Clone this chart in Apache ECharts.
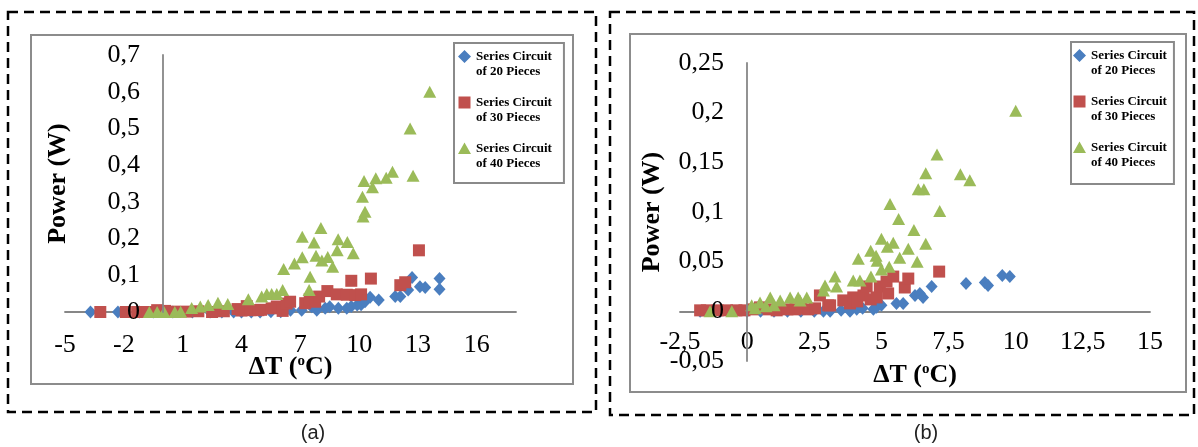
<!DOCTYPE html>
<html><head><meta charset="utf-8">
<script src="https://cdn.jsdelivr.net/npm/echarts@6/dist/echarts.min.js"></script>
<style>html,body{margin:0;padding:0;background:#fff;} #c{width:1198px;height:447px;}</style>
</head><body><div id="c"></div>
<script>
// ---- data ----
const seriesNames = ['Series Circuit\nof 20 Pieces', 'Series Circuit\nof 30 Pieces', 'Series Circuit\nof 40 Pieces'];
const panelLabels = ['(a)', '(b)'];
const yTitle = 'Power (W)';
const xTitleParts = ['ΔT (', 'o', 'C)'];

// panel (a): [ΔT, Power]
const a20 = [[-3.7,0],[-2.3,0],[-1.2,0],[-0.5,0],[0.5,0],[1.5,0],[2.4,0],[3.0,0],[3.6,0],[4.0,0],[4.5,0],[4.95,0],[5.5,0.001],[6.0,0.001],[6.5,0.005],[7.07,0.005],[7.58,0.014],[7.84,0.005],[8.27,0.01],[8.5,0.014],[8.94,0.01],[9.37,0.01],[9.6,0.015],[9.9,0.019],[10.1,0.02],[10.3,0.028],[10.56,0.04],[11.0,0.033],[11.84,0.042],[12.1,0.042],[12.5,0.06],[12.7,0.094],[13.1,0.069],[13.37,0.067],[14.1,0.091],[14.1,0.062]];
const a30 = [[-3.2,0],[-1.9,0],[-1.3,0],[-0.8,0],[-0.3,0.005],[0.1,0.003],[0.6,0.001],[1.2,0.001],[1.8,0.002],[2.5,0],[3.1,0.002],[3.8,0.008],[4.0,0.004],[4.27,0.016],[4.45,0.005],[4.86,0.005],[5.0,0.006],[5.54,0.01],[5.8,0.015],[6.1,0.003],[6.3,0.023],[6.48,0.028],[7.25,0.024],[7.48,0.035],[7.76,0.028],[7.96,0.042],[8.38,0.057],[8.86,0.048],[9.37,0.047],[9.6,0.085],[9.8,0.046],[10.1,0.048],[10.6,0.091],[12.1,0.073],[12.35,0.081],[13.05,0.168]];
const a40 = [[-0.7,0],[-0.3,0],[0.05,0],[0.6,0],[0.9,0.001],[1.46,0.011],[1.9,0.015],[2.3,0.019],[2.8,0.025],[3.3,0.022],[4.35,0.035],[5.03,0.042],[5.29,0.049],[5.54,0.049],[5.8,0.049],[6.1,0.06],[6.15,0.117],[6.7,0.132],[7.1,0.149],[7.1,0.205],[7.45,0.06],[7.5,0.096],[7.7,0.189],[7.8,0.153],[8.05,0.229],[8.1,0.14],[8.4,0.15],[8.65,0.123],[8.88,0.168],[8.93,0.198],[9.4,0.191],[9.7,0.16],[10.17,0.314],[10.2,0.26],[10.3,0.273],[10.25,0.357],[10.68,0.34],[10.85,0.364],[11.38,0.366],[11.7,0.382],[12.6,0.5],[12.75,0.371],[13.6,0.6]];

// panel (b): [ΔT, Power]
const b20 = [[-1.75,0],[-1.0,0],[0.0,0],[0.5,0],[1.0,0],[1.5,0],[2.0,0],[2.5,0],[2.84,0],[3.09,0],[3.5,0.001],[3.83,0],[4.08,0.002],[4.3,0.003],[4.7,0.002],[4.82,0.004],[5.0,0.006],[5.56,0.008],[5.81,0.008],[6.25,0.016],[6.43,0.018],[6.55,0.014],[6.87,0.025],[8.15,0.028],[8.85,0.029],[8.97,0.026],[9.5,0.036],[9.78,0.035]];
const b30 = [[-1.75,0.001],[-1.5,0.001],[-1.1,0.001],[-0.75,0.001],[-0.4,0.001],[-0.1,0.001],[0.2,0.002],[0.48,0.004],[0.8,0.002],[1.1,0.001],[1.5,0.002],[1.8,0.002],[2.0,0.003],[2.27,0.002],[2.53,0.003],[2.71,0.016],[3.02,0.006],[3.09,0.006],[3.58,0.011],[3.83,0.008],[3.95,0.014],[4.1,0.01],[4.33,0.016],[4.45,0.025],[4.6,0.012],[4.82,0.014],[4.94,0.025],[5.19,0.03],[5.25,0.018],[5.44,0.035],[5.87,0.024],[6.0,0.033],[7.15,0.04]];
const b40 = [[-1.38,0],[-0.57,0],[0.17,0.006],[0.3,0.003],[0.48,0.009],[0.7,0.005],[0.86,0.014],[1.0,0.006],[1.23,0.011],[1.6,0.014],[1.9,0.014],[1.97,0.011],[2.22,0.014],[2.84,0.021],[2.9,0.026],[3.27,0.035],[3.33,0.025],[3.95,0.031],[4.14,0.053],[4.2,0.031],[4.61,0.035],[4.6,0.061],[4.8,0.056],[4.84,0.051],[5.0,0.042],[5.0,0.073],[5.22,0.065],[5.29,0.045],[5.32,0.108],[5.44,0.069],[5.64,0.093],[5.68,0.054],[6.0,0.063],[6.21,0.082],[6.33,0.05],[6.37,0.123],[6.58,0.123],[6.65,0.068],[6.65,0.139],[7.07,0.158],[7.17,0.101],[7.94,0.138],[8.29,0.132],[10.0,0.202]];

// axis ranges (tick labels)
const aX = {min: -5, max: 18, interval: 3, hideLabel: 18};
const aY = {min: 0, max: 0.7, interval: 0.1};
const bX = {min: -2.5, max: 15, interval: 2.5};
const bY = {min: -0.05, max: 0.25, interval: 0.05};

// ---- styles ----
const colors = ['#4A7EBF', '#C0504D', '#9BBB59'];
const symbols = ['diamond', 'rect', 'triangle'];
const symbolSizes = [[12, 13], [12, 12], [13, 12]];
const legendIcons = [
  'path://M6.5,0L13,6.5L6.5,13L0,6.5Z M0,28L13,28Z',
  'path://M0.5,1H12.5V13H0.5Z M0,28L13,28Z',
  'path://M6.5,1L13,12.5L0,12.5Z M0,28L13,28Z'
];
const serif = 'Liberation Serif';
const fmt = v => String(+(+v).toFixed(4)).replace('.', ',');
const axisLineStyle = {color: '#878787', width: 1.8};

function xAxisOf(ax, gi, gap, margin) {
  return {
    type: 'value', gridIndex: gi, min: ax.min, max: ax.max, interval: ax.interval,
    axisLine: {show: true, onZero: true, lineStyle: axisLineStyle},
    axisTick: {show: false}, splitLine: {show: false},
    axisLabel: {fontFamily: serif, fontSize: 26, color: '#000', margin: margin, hideOverlap: false,
      formatter: v => (ax.hideLabel !== undefined && Math.abs(v - ax.hideLabel) < 1e-9) ? '' : fmt(v)},
    name: '{b|' + xTitleParts[0] + '}{s|' + xTitleParts[1] + '}{b|' + xTitleParts[2] + '}',
    nameLocation: 'middle', nameGap: gap, nameMoveOverlap: false,
    nameTextStyle: {rich: {
      b: {fontFamily: serif, fontSize: 26, fontWeight: 'bold', color: '#000'},
      s: {fontFamily: serif, fontSize: 15, fontWeight: 'bold', color: '#000', verticalAlign: 'top'}
    }}
  };
}
function yAxisOf(ax, gi, gap, margin) {
  return {
    type: 'value', gridIndex: gi, min: ax.min, max: ax.max, interval: ax.interval, z: 6,
    axisLine: {show: true, onZero: true, lineStyle: axisLineStyle},
    axisTick: {show: false}, splitLine: {show: false},
    axisLabel: {fontFamily: serif, fontSize: 26, color: '#000', margin: margin, hideOverlap: false, formatter: fmt},
    name: yTitle, nameLocation: 'middle', nameGap: gap, nameMoveOverlap: false,
    nameTextStyle: {fontFamily: serif, fontSize: 26, fontWeight: 'bold', color: '#000'}
  };
}
function seriesOf(data, k, gi) {
  return {
    type: 'scatter', name: seriesNames[k], xAxisIndex: gi, yAxisIndex: gi,
    data: data, symbol: symbols[k], symbolSize: symbolSizes[k],
    itemStyle: {color: colors[k], opacity: 1}, z: 2 + k
  };
}
function legendOf(left, top, padding) {
  return {
    orient: 'vertical', left: left, top: top, padding: padding,
    itemWidth: 13, itemHeight: 28, itemGap: 16,
    backgroundColor: '#fff', borderColor: '#8a8a8a', borderWidth: 2,
    selectedMode: false,
    textStyle: {fontFamily: serif, fontSize: 13, fontWeight: 'bold', color: '#000', lineHeight: 15},
    data: seriesNames.map((n, k) => ({name: n, icon: legendIcons[k]}))
  };
}

const chart = echarts.init(document.getElementById('c'), null, {renderer: 'canvas'});
chart.setOption({
  animation: false,
  backgroundColor: '#fff',
  grid: [
    {left: 65, top: 55, width: 451, height: 257, containLabel: false, outerBoundsMode: 'none'},
    {left: 680, top: 63, width: 470, height: 298, containLabel: false, outerBoundsMode: 'none'}
  ],
  xAxis: [xAxisOf(aX, 0, 42, 20), xAxisOf(bX, 1, 1, -32)],
  yAxis: [yAxisOf(aY, 0, -6, -75), yAxisOf(bY, 1, 15, -44)],
  legend: [legendOf(454, 43, [6, 12, 12, 4]), legendOf(1071, 42, [6, 7, 14, 2])],
  graphic: [
    {type: 'rect', shape: {x: 8, y: 12, width: 588, height: 400}, style: {fill: 'none', stroke: '#000', lineWidth: 2.5, lineDash: [10, 6]}, z: -10},
    {type: 'rect', shape: {x: 610, y: 12, width: 584, height: 403}, style: {fill: 'none', stroke: '#000', lineWidth: 2.5, lineDash: [10, 6]}, z: -10},
    {type: 'rect', shape: {x: 31, y: 35, width: 542, height: 349}, style: {fill: 'none', stroke: '#8c8c8c', lineWidth: 2}, z: -9},
    {type: 'rect', shape: {x: 630, y: 34, width: 556, height: 358}, style: {fill: 'none', stroke: '#8c8c8c', lineWidth: 2}, z: -9},
    {type: 'text', x: 313, y: 433, style: {text: panelLabels[0], font: '20px "Liberation Sans"', fill: '#222', align: 'center', verticalAlign: 'middle'}},
    {type: 'text', x: 926, y: 433, style: {text: panelLabels[1], font: '20px "Liberation Sans"', fill: '#222', align: 'center', verticalAlign: 'middle'}}
  ],
  series: [
    seriesOf(a20, 0, 0), seriesOf(a30, 1, 0), seriesOf(a40, 2, 0),
    seriesOf(b20, 0, 1), seriesOf(b30, 1, 1), seriesOf(b40, 2, 1)
  ]
});
</script>
</body></html>
